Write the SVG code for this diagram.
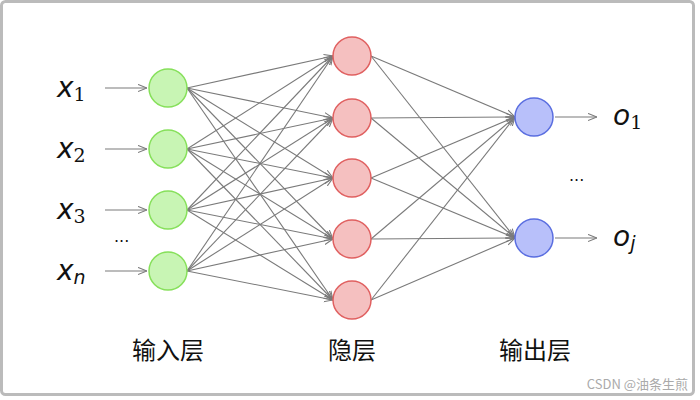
<svg xmlns="http://www.w3.org/2000/svg" width="700" height="400" viewBox="0 0 700 400">
<style>
.e{stroke:#7a7a7a;stroke-width:1.1;fill:none;marker-end:url(#a)}
.in{fill:#c8f5b4;stroke:#86e05a;stroke-width:1.5}
.hid{fill:#f5c0c0;stroke:#e06060;stroke-width:1.5}
.out{fill:#b8c0fa;stroke:#5a6ee0;stroke-width:1.5}
.m{font-family:"DejaVu Sans",sans-serif;fill:#111;font-style:italic}
.s{font-family:"DejaVu Serif",serif;fill:#111;font-style:normal}
.c{font-family:"Noto Sans CJK SC",sans-serif;font-size:24px;fill:#111;text-anchor:middle}
</style>
<defs><marker id="a" viewBox="0 0 10 10" refX="10" refY="5" markerWidth="9" markerHeight="9" markerUnits="userSpaceOnUse" orient="auto"><path d="M0,1 L10,5 L0,9" fill="none" stroke="#7a7a7a" stroke-width="1.2"/></marker></defs>
<rect x="0" y="0" width="700" height="400" fill="#fff"/>
<rect x="1.5" y="1.5" width="692" height="393" rx="4" fill="none" stroke="#bbb" stroke-width="3"/>
<g id="connectors">
<line class="e" x1="105" y1="88" x2="147" y2="88"/>
<line class="e" x1="105" y1="149" x2="147" y2="149"/>
<line class="e" x1="105" y1="210" x2="147" y2="210"/>
<line class="e" x1="105" y1="271" x2="147" y2="271"/>
<g>
<line class="e" x1="187" y1="88" x2="333" y2="56"/><line class="e" x1="187" y1="88" x2="333" y2="118"/><line class="e" x1="187" y1="88" x2="333" y2="178"/><line class="e" x1="187" y1="88" x2="333" y2="239"/><line class="e" x1="187" y1="88" x2="333" y2="300"/>
<line class="e" x1="187" y1="149" x2="333" y2="56"/><line class="e" x1="187" y1="149" x2="333" y2="118"/><line class="e" x1="187" y1="149" x2="333" y2="178"/><line class="e" x1="187" y1="149" x2="333" y2="239"/><line class="e" x1="187" y1="149" x2="333" y2="300"/>
<line class="e" x1="187" y1="210" x2="333" y2="56"/><line class="e" x1="187" y1="210" x2="333" y2="118"/><line class="e" x1="187" y1="210" x2="333" y2="178"/><line class="e" x1="187" y1="210" x2="333" y2="239"/><line class="e" x1="187" y1="210" x2="333" y2="300"/>
<line class="e" x1="187" y1="271" x2="333" y2="56"/><line class="e" x1="187" y1="271" x2="333" y2="118"/><line class="e" x1="187" y1="271" x2="333" y2="178"/><line class="e" x1="187" y1="271" x2="333" y2="239"/><line class="e" x1="187" y1="271" x2="333" y2="300"/>
</g>
<g>
<line class="e" x1="371" y1="56" x2="515" y2="117"/><line class="e" x1="371" y1="56" x2="515" y2="238"/>
<line class="e" x1="371" y1="118" x2="515" y2="117"/><line class="e" x1="371" y1="118" x2="515" y2="238"/>
<line class="e" x1="371" y1="178" x2="515" y2="117"/><line class="e" x1="371" y1="178" x2="515" y2="238"/>
<line class="e" x1="371" y1="239" x2="515" y2="117"/><line class="e" x1="371" y1="239" x2="515" y2="238"/>
<line class="e" x1="371" y1="300" x2="515" y2="117"/><line class="e" x1="371" y1="300" x2="515" y2="238"/>
</g>
<line class="e" x1="555" y1="117" x2="597" y2="117"/>
<line class="e" x1="555" y1="238" x2="597" y2="238"/>
</g>
<g id="i1"><circle class="in" cx="168" cy="88" r="19"/></g>
<g id="i2"><circle class="in" cx="168" cy="149" r="19"/></g>
<g id="i3"><circle class="in" cx="168" cy="210" r="19"/></g>
<g id="i4"><circle class="in" cx="168" cy="271" r="19"/></g>
<g id="h1"><circle class="hid" cx="352" cy="56" r="19"/></g>
<g id="h2"><circle class="hid" cx="352" cy="118" r="19"/></g>
<g id="h3"><circle class="hid" cx="352" cy="178" r="19"/></g>
<g id="h4"><circle class="hid" cx="352" cy="239" r="19"/></g>
<g id="h5"><circle class="hid" cx="352" cy="300" r="19"/></g>
<g id="o1"><circle class="out" cx="534" cy="117" r="19"/></g>
<g id="o2"><circle class="out" cx="534" cy="238" r="19"/></g>
<g id="labels">
<text class="m" x="57" y="97" font-size="28">x<tspan class="s" font-size="19" dy="4">1</tspan></text>
<text class="m" x="57" y="158" font-size="28">x<tspan class="s" font-size="19" dy="4">2</tspan></text>
<text class="m" x="57" y="219" font-size="28">x<tspan class="s" font-size="19" dy="4">3</tspan></text>
<text class="m" x="57" y="280" font-size="28">x<tspan font-size="19" dy="4">n</tspan></text>
<text x="114" y="242" font-family="DejaVu Sans,sans-serif" font-size="16" fill="#111">...</text>
<text x="569" y="181" font-family="DejaVu Sans,sans-serif" font-size="16" fill="#111">...</text>
<text class="m" x="613" y="125" font-size="28">o<tspan class="s" font-size="19" dy="4">1</tspan></text>
<text class="m" x="613" y="246" font-size="28">o<tspan font-size="19" dy="4">j</tspan></text>
<text class="c" x="168" y="359">输入层</text>
<text class="c" x="352" y="359">隐层</text>
<text class="c" x="535" y="359">输出层</text>
<text x="688" y="389" text-anchor="end" font-family="Noto Sans CJK SC,sans-serif" font-size="13" fill="#aaa">CSDN @油条生煎</text>
</g>
</svg>
